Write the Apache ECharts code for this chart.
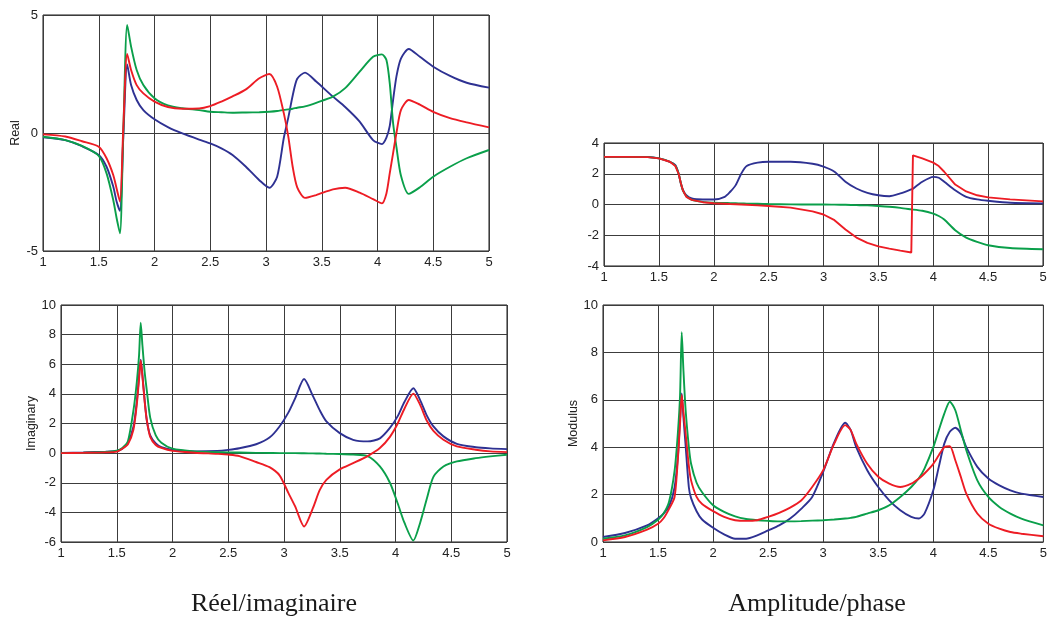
<!DOCTYPE html>
<html><head><meta charset="utf-8">
<script src="https://cdn.jsdelivr.net/npm/echarts@6/dist/echarts.min.js"></script>
<style>html,body{margin:0;padding:0;background:#fff}#c{width:1050px;height:619px}</style>
</head><body><div id="c"></div>
<script>
// ---- Real part (top-left) ----
const xRe = [1.0, 1.2, 1.35, 1.5, 1.57, 1.63, 1.66, 1.69, 1.72, 1.755, 1.79, 1.84, 1.9, 2.0, 2.12, 2.25, 2.4, 2.5, 2.6, 2.7, 2.82, 2.94, 3.03, 3.1, 3.16, 3.2, 3.24, 3.28, 3.35, 3.45, 3.6, 3.71, 3.84, 3.96, 4.04, 4.08, 4.11, 4.14, 4.17, 4.21, 4.28, 4.38, 4.5, 4.65, 4.8, 5.0];
const reBlue = [-0.18, -0.3, -0.56, -0.93, -1.43, -2.27, -2.9, -3.3, -0.2, 2.9, 2.03, 1.4, 0.97, 0.58, 0.25, -0.02, -0.28, -0.44, -0.65, -0.93, -1.43, -2.0, -2.32, -1.85, -0.2, 0.65, 1.6, 2.3, 2.56, 2.18, 1.54, 1.1, 0.48, -0.3, -0.47, -0.2, 0.3, 1.4, 2.4, 3.15, 3.56, 3.23, 2.81, 2.42, 2.13, 1.92];
const reRed = [-0.06, -0.15, -0.35, -0.58, -1.07, -1.78, -2.35, -2.9, 0.2, 3.35, 2.67, 2.03, 1.68, 1.33, 1.1, 1.03, 1.04, 1.14, 1.33, 1.55, 1.85, 2.32, 2.5, 1.96, 0.83, -0.15, -1.45, -2.3, -2.75, -2.63, -2.39, -2.32, -2.53, -2.8, -2.98, -2.56, -1.7, -0.85, 0.0, 0.97, 1.4, 1.2, 0.9, 0.63, 0.45, 0.24];
const reGreen = [-0.16, -0.3, -0.55, -0.97, -1.71, -2.84, -3.6, -4.25, 0.0, 4.58, 3.66, 2.67, 2.03, 1.47, 1.17, 1.05, 0.97, 0.9, 0.88, 0.86, 0.87, 0.88, 0.9, 0.93, 0.98, 1.0, 1.03, 1.07, 1.13, 1.28, 1.54, 1.9, 2.6, 3.23, 3.33, 3.09, 2.1, 0.41, -0.6, -1.8, -2.58, -2.3, -1.85, -1.43, -1.07, -0.72];

// ---- Imaginary part (bottom-left) ----
const xIm = [1.0, 1.2, 1.4, 1.5, 1.55, 1.6, 1.65, 1.68, 1.70, 1.715, 1.73, 1.75, 1.77, 1.8, 1.85, 1.9, 2.0, 2.2, 2.4, 2.5, 2.6, 2.75, 2.87, 2.96, 3.04, 3.1, 3.18, 3.26, 3.32, 3.38, 3.5, 3.62, 3.75, 3.86, 3.95, 4.02, 4.08, 4.16, 4.22, 4.28, 4.34, 4.43, 4.55, 4.72, 4.85, 5.0];
const imBlue = [0.02, 0.05, 0.1, 0.15, 0.3, 0.7, 1.8, 3.5, 5.2, 6.3, 5.3, 3.6, 2.2, 1.2, 0.65, 0.4, 0.22, 0.12, 0.15, 0.22, 0.33, 0.6, 1.05, 1.8, 2.75, 3.7, 5.0, 3.85, 2.9, 2.14, 1.35, 0.9, 0.79, 1.0, 1.7, 2.5, 3.45, 4.38, 3.6, 2.55, 1.8, 1.13, 0.63, 0.4, 0.32, 0.27];
const imRed = [0.0, 0.02, 0.05, 0.1, 0.3, 0.6, 1.6, 3.3, 5.0, 6.25, 5.2, 3.5, 2.2, 1.1, 0.55, 0.35, 0.15, 0.03, -0.05, -0.1, -0.2, -0.6, -0.95, -1.5, -2.7, -3.6, -4.95, -3.7, -2.5, -1.8, -1.1, -0.68, -0.2, 0.34, 1.1, 2.0, 3.0, 4.02, 3.27, 2.2, 1.5, 0.9, 0.45, 0.23, 0.12, 0.07];
const imGreen = [0.0, 0.03, 0.08, 0.16, 0.35, 0.8, 2.9, 4.8, 6.6, 8.8, 7.3, 5.5, 4.2, 2.4, 1.2, 0.7, 0.3, 0.12, 0.07, 0.05, 0.04, 0.02, 0.01, 0.0, 0.0, 0.0, -0.01, -0.02, -0.03, -0.04, -0.06, -0.1, -0.2, -0.9, -2.0, -3.4, -4.7, -5.9, -4.73, -3.1, -1.6, -0.9, -0.56, -0.34, -0.22, -0.11];

// ---- Phase (top-right) ----
const xPh = [1.0, 1.2, 1.4, 1.5, 1.6, 1.65, 1.68, 1.7, 1.72, 1.75, 1.8, 1.9, 2.0, 2.1, 2.15, 2.2, 2.25, 2.3, 2.4, 2.5, 2.7, 2.9, 3.0, 3.1, 3.2, 3.3, 3.4, 3.5, 3.6, 3.7, 3.8, 3.81, 3.815, 3.9, 4.0, 4.05, 4.1, 4.2, 4.3, 4.4, 4.5, 4.7, 5.0];
const phBlue = [3.1, 3.1, 3.09, 3.0, 2.78, 2.56, 2.0, 1.37, 0.93, 0.6, 0.39, 0.33, 0.33, 0.5, 0.83, 1.26, 2.0, 2.5, 2.72, 2.78, 2.78, 2.65, 2.46, 2.13, 1.48, 1.04, 0.76, 0.6, 0.54, 0.72, 0.98, 1.0, 1.02, 1.48, 1.8, 1.74, 1.48, 0.93, 0.5, 0.33, 0.24, 0.11, 0.07];
const phRed = [3.1, 3.1, 3.08, 3.0, 2.78, 2.5, 2.0, 1.4, 0.9, 0.5, 0.3, 0.15, 0.08, 0.05, 0.03, 0.02, 0.0, -0.02, -0.06, -0.1, -0.2, -0.45, -0.65, -1.02, -1.63, -2.15, -2.5, -2.72, -2.87, -3.0, -3.12, -3.15, 3.2, 3.0, 2.72, 2.5, 2.13, 1.3, 0.85, 0.6, 0.46, 0.33, 0.2];
const phGreen = [3.1, 3.1, 3.08, 3.0, 2.78, 2.52, 2.0, 1.4, 0.9, 0.55, 0.3, 0.17, 0.12, 0.1, 0.09, 0.08, 0.07, 0.06, 0.05, 0.03, 0.01, 0.0, 0.0, -0.01, -0.02, -0.04, -0.06, -0.1, -0.15, -0.22, -0.32, -0.33, -0.34, -0.41, -0.59, -0.75, -0.98, -1.67, -2.15, -2.43, -2.65, -2.83, -2.91];

// ---- Modulus (bottom-right) ----
const xMod = [1.0, 1.2, 1.4, 1.5, 1.55, 1.6, 1.65, 1.68, 1.7, 1.715, 1.73, 1.75, 1.78, 1.8, 1.85, 1.9, 2.0, 2.1, 2.2, 2.3, 2.4, 2.5, 2.6, 2.7, 2.8, 2.9, 3.0, 3.1, 3.2, 3.25, 3.3, 3.4, 3.5, 3.6, 3.7, 3.8, 3.87, 3.92, 4.0, 4.05, 4.1, 4.15, 4.2, 4.25, 4.3, 4.4, 4.5, 4.6, 4.7, 4.8, 5.0];
const modBlue = [0.21, 0.38, 0.7, 1.0, 1.2, 1.5, 2.3, 3.6, 5.2, 6.27, 5.3, 4.1, 2.3, 1.85, 1.3, 0.95, 0.6, 0.32, 0.14, 0.14, 0.28, 0.49, 0.7, 0.99, 1.4, 1.9, 2.96, 4.2, 5.03, 4.72, 4.0, 3.03, 2.32, 1.76, 1.34, 1.06, 0.99, 1.2, 2.18, 3.17, 4.15, 4.65, 4.82, 4.58, 4.0, 3.17, 2.68, 2.39, 2.18, 2.04, 1.9];
const modRed = [0.07, 0.21, 0.52, 0.77, 1.0, 1.4, 1.9, 3.5, 5.0, 6.2, 5.5, 4.6, 3.2, 2.6, 1.9, 1.6, 1.3, 1.06, 0.92, 0.89, 0.92, 1.06, 1.23, 1.45, 1.75, 2.32, 3.03, 4.15, 4.93, 4.72, 4.15, 3.3, 2.75, 2.46, 2.32, 2.46, 2.68, 2.89, 3.3, 3.66, 4.0, 4.04, 3.45, 2.75, 2.04, 1.2, 0.77, 0.56, 0.42, 0.35, 0.24];
const modGreen = [0.14, 0.28, 0.63, 0.94, 1.2, 1.7, 3.0, 4.6, 6.2, 8.85, 7.3, 5.6, 4.0, 3.3, 2.5, 2.1, 1.55, 1.27, 1.08, 0.97, 0.92, 0.89, 0.87, 0.87, 0.88, 0.9, 0.92, 0.95, 0.99, 1.02, 1.06, 1.2, 1.34, 1.55, 1.9, 2.32, 2.7, 3.1, 4.0, 4.72, 5.42, 5.92, 5.56, 4.72, 3.87, 2.6, 1.9, 1.48, 1.2, 0.99, 0.7];

const captions = ['Réel/imaginaire', 'Amplitude/phase'];
const yNames = ['Real', '', 'Imaginary', 'Modulus'];

const BLUE = '#2e3192', RED = '#ed1c24', GREEN = '#0a9f4a';
const TICK_FONT = '"Liberation Sans", Arial, Helvetica, sans-serif';

const chart = echarts.init(document.getElementById('c'), null, {renderer: 'canvas'});

const gridBoxes = [
  {left: 43, top: 15, width: 446, height: 236},
  {left: 604, top: 143, width: 439, height: 123},
  {left: 61, top: 305, width: 446, height: 237},
  {left: 603, top: 305, width: 445, height: 237}
];
const grid = gridBoxes.map(g => Object.assign({show: true, borderColor: '#1a1a1a', borderWidth: 1, backgroundColor: 'rgba(0,0,0,0)'}, g));

const gridLine = {show: true, lineStyle: {color: '#3c3c3c', width: 1}};

function xAx(i) {
  return {
    type: 'value', gridIndex: i, min: 1, max: 5, interval: 0.5,
    axisLine: {show: false}, axisTick: {show: false},
    axisLabel: {color: '#222', fontSize: 13, fontFamily: TICK_FONT, margin: 5, formatter: v => String(v)},
    splitLine: gridLine
  };
}
function yAx(i, min, max, interval, gap) {
  return {
    type: 'value', gridIndex: i, min: min, max: max, interval: interval,
    name: yNames[i], nameLocation: 'middle', nameGap: gap, nameRotate: 90,
    nameTextStyle: {color: '#222', fontSize: 12.5, fontFamily: TICK_FONT},
    axisLine: {show: false}, axisTick: {show: false},
    axisLabel: {color: '#222', fontSize: 13, fontFamily: TICK_FONT, margin: 5},
    splitLine: gridLine
  };
}

function mk(xs, ys, color, i, smooth) {
  return {
    type: 'line', xAxisIndex: i, yAxisIndex: i,
    data: xs.map((x, k) => [x, ys[k]]),
    symbol: 'none', showSymbol: false, smooth: smooth,
    lineStyle: {color: color, width: 1.9}, itemStyle: {color: color},
    clip: true, animation: false
  };
}

const S = 0.25;
const option = {
  backgroundColor: '#ffffff',
  animation: false,
  grid: grid,
  xAxis: [xAx(0), xAx(1), xAx(2), xAx(3)],
  yAxis: [yAx(0, -5, 5, 5, 20), yAx(1, -4, 4, 2, 20), yAx(2, -6, 10, 2, 17), yAx(3, 0, 10, 2, 22)],
  series: [
    mk(xRe, reBlue, BLUE, 0, S), mk(xRe, reGreen, GREEN, 0, S), mk(xRe, reRed, RED, 0, S),
    mk(xPh, phBlue, BLUE, 1, S), mk(xPh, phGreen, GREEN, 1, S), mk(xPh, phRed, RED, 1, false),
    mk(xIm, imBlue, BLUE, 2, S), mk(xIm, imGreen, GREEN, 2, S), mk(xIm, imRed, RED, 2, S),
    mk(xMod, modBlue, BLUE, 3, S), mk(xMod, modGreen, GREEN, 3, S), mk(xMod, modRed, RED, 3, S)
  ],
  graphic: [
    {type: 'text', style: {text: captions[0], x: 274, y: 604, font: '26px "Liberation Serif", "Times New Roman", serif', fill: '#1a1a1a', align: 'center', verticalAlign: 'middle'}},
    {type: 'text', style: {text: captions[1], x: 817, y: 604, font: '26px "Liberation Serif", "Times New Roman", serif', fill: '#1a1a1a', align: 'center', verticalAlign: 'middle'}}
  ]
};
chart.setOption(option);
</script>
</body></html>
